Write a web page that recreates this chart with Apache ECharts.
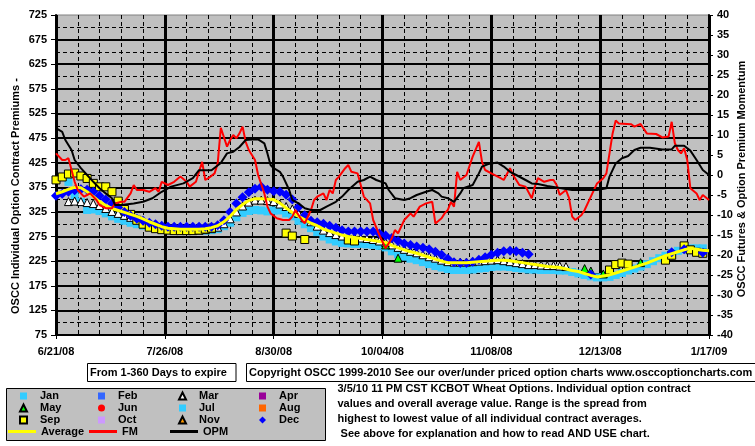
<!DOCTYPE html>
<html><head><meta charset="utf-8">
<script src="https://cdn.jsdelivr.net/npm/echarts/dist/echarts.min.js"></script>
<style>html,body{margin:0;padding:0;background:#fff}#c{width:755px;height:446px}</style>
</head><body><div id="c"></div>
<script>
// x values are days counted from 6/21/08
const dateLabels = ['6/21/08','7/26/08','8/30/08','10/04/08','11/08/08','12/13/08','1/17/09'];

const dotDays = [0,2,4,6,8,10,12,14,16,18, 20,22,24,26,28,30,32,34,36,38, 40,42,44,46,48,50,52,54,56,58,
  60,62,64,66,68,70,72,74,76,78, 80,82,84,86,88,90,92,94,96,98, 100,102,104,106,108,110,112,114,116,118,
  120,122,124,126,128,130,132,134,136,138, 140,142,144,146,148,150,152,154,156,158,
  160,162,164,166,168,170,172,174,176,178, 180,182,184,186,188,190,192,194,196,198, 200,202,204,206,208,210];

const avgVals = [362,366,371,375,374,366,356,346,338,332, 328,324,320,316,311,305,300,295,292,291,
  290,290,290,290,291,293,297,305,316,330, 340,348,352,352,351,350,343,333,324,316,
  309,302,297,290,286,282,278,275,273,271, 269,267,265,263,257,252,248,244,241,237,
  233,229,225,222,222,222,222,223,224,225, 226,227,227,226,224,222,220,218,216,214,
  213,212,209,206,204,200,196,193,195,197, 201,205,209,213,217,221,226,231,236,240, 244,248,251,249,247,246];

const janVals = [null,null,386,359,345,329,330,327,322,316, 311,307,303,300,297,295,293,291,290,288,
  287,287,287,287,287,288,290,296,303,314, 323,327,329,328,326,328,328,322,316,307,
  300,292,284,275,269,265,262,261,260,260, 259,258,256,253,245,239,234,230,227,223,
  219,215,212,209,207,207,207,208,210,211, 213,214,214,213,211,210,208,208,207,207,
  207,206,206,203,200,197,194,192,192,193, 197,201,206,210,214,219,225,231,236,241, 246,249,251,251,251,null];

const marVals = [null,null,346,347,346,344,342,338,332,326, 322,318,314,310,306,301,297,293,290,289,
  288,288,288,288,289,291,294,301,311,325, 337,345,349,349,348,346,341,336,331,322,
  313,305,296,288,283,279,276,274,273,272, 271,269,266,263,258,253,249,245,242,238,
  234,231,227,224,223,223,223,224,225,226, 227,228,226,224,222,220,218,218,217,216,
  216,215,214,null,null,null,null,null,null,null, null,null,null,null,null,null,null,null,null,null, null,null,null,null,null,null];

const sepVals = [390,396,402,404,398,393,383,376,376,366, 347,330,320,308,300,294,291,289,288,287,
  287,287,287,288,290,292,null,null,null,null, null,null,null,null,null,null,null,282,276,null,
  269,null,null,null,null,null,null,268,266,null, null,null,null,null,null,null,null,null,null,null,
  null,null,null,null,null,null,null,null,null,null, null,null,null,null,null,null,null,null,null,null,
  null,null,null,null,null,null,null,null,null,207, 218,221,219,null,null,null,null,null,227,237, null,256,248,243,241,null];

const decVals = [358,362,366,369,371,370,366,358,350,342, 334,325,317,311,307,303,300,297,295,295,
  295,295,295,295,295,295,298,308,325,342, 355,365,372,376,370,367,366,360,350,335,
  318,307,304,301,297,293,288,285,285,285, 285,285,281,277,272,266,261,258,255,252,
  249,244,238,230,223,221,221,224,228,233, 238,242,245,246,245,242,239,null,null,null,
  null,null,null,null,null,null,198,null,null,null, null,null,null,null,null,null,null,null,null,243, null,249,null,null,242,null];

const mayDays = [106,110,170,172,176,188];
const mayVals = [258,231,210,205,199,222];

const fmDays = [0,2,3,4,5,6,7,9,10,11, 13,14,16,18,19,21,22,24,25,26, 28,30,32,33,34,36,38,40,42,43,
  45,47,48,49,51,52,53,55,56,57, 58,59,60,61,62,63,64,65,67,68, 69,71,73,75,76,77,79,80,82,83,
  84,86,87,88,89,90,91,93,94,95, 97,99,101,102,104,105,106,108,109,110, 112,114,115,117,119,121,122,124,125,126,
  127,128,129,130,132,134,136,137,138,140, 143,144,146,147,149,151,153,154,155,157,
  159,160,161,162,164,165,166,167,169,170, 172,174,176,177,178,179,180,181,185,186,
  188,190,193,195,197,198,199,200,201,202, 203,204,206,207,208,210];
const fmVals = [5.4,3.75,3.75,4.2,1.25,-1.7,-3.75,-5.4,-5,-4.6, -6.25,-7.5,-8.3,-8.3,-7.1,-6.7,-6.7,-4.6,-2.5,-3.75,
  -3.75,-4.2,-3.3,-4.2,-1.7,-2.5,-1.7,-0.4,-1.7,-2.9, -1.7,3.3,-1.25,-0.8,0.4,2.9,11.8,7.1,8.75,10,
  9.2,10.4,12.1,8.3,6.25,5,3.75,0,-4.6,-7.9, -9.6,-10.8,-11.25,-11.25,-10.4,-8.75,-11.25,-12.1,-8.75,-6.25,
  -5.4,-4.6,-6.25,-3.75,-4.6,-1.25,-0.4,1.7,2.5,0.8, 0.4,-5.4,-7.1,-11.25,-15,-16.7,-18.3,-15.8,-13.75,-14.6,
  -11.25,-9.6,-10.4,-7.9,-7.1,-6.7,-12.1,-10.8,-9.6,-8.75, -6.7,-7.9,0.8,-1.25,0,4.6,8.3,3.3,1.25,0.4,
  -0.8,-1.25,1.7,0,-2.5,-2.9,-5.8,-2.9,-0.8,-1.7, -1.25,-1.25,-2.5,-5,-3.75,-5.8,-10.4,-11.25,-10,-8.75,
  -5.4,-2.1,-0.8,0.4,5.4,10.4,13.6,12.9,12.7,12.1, 12.75,10.4,10.25,9.4,9.6,13.3,8,6.25,5.4,6.7,
  3.75,-3.3,-4.6,-6.25,-5,-6.25];

const opmDays = [0,2,3,5,6,8,10,12,14,16, 18,19,21,25,28,31,34,37,41,44, 46,50,53,55,57,59,61,63,65,67,
  68,69,70,72,73,75,76,78,80,82, 85,87,90,92,94,97,99,101,103,106, 107,109,112,114,116,119,121,123,124,126,
  128,130,131,134,136,137,139,142,144,146, 148,151,153,155,158,161,166,170,174,177,
  178,180,182,184,186,188,191,195,198,199, 202,204,206,208,210];
const opmVals = [11.7,10.8,8.75,6.25,3.75,1.7,0,-1.7,-3.3,-4.6, -5.8,-7.5,-7.5,-7.1,-6.7,-5.8,-4.2,-2.9,-2.1,-0.8,
  1.2,1.2,3.0,5.4,5.8,7.0,8.75,8.9,8.9,7.9, 5.4,2.5,1.7,0.8,-0.4,-3.75,-6.25,-7.1,-8.3,-8.75,
  -8.75,-7.9,-6.7,-5.4,-3.75,-1.7,-1.25,-0.4,-1.25,-2.1, -3.75,-5.8,-6.25,-5.8,-5,-4.2,-3.75,-4.6,-5.4,-5.8,
  -6.7,-4.6,-3.3,-2.5,0.4,2.1,2.75,3.1,2.1,0.8, 0,-1.25,-2.1,-2.25,-2.75,-3.1,-3.75,-3.75,-3.75,-3.3,
  -0.4,2.9,4.2,4.75,6.25,6.8,6.8,6.4,6.4,7.3, 7.3,6.1,3.75,1.25,0];

const textLines = ['3/5/10 11 PM CST KCBOT Wheat Options. Individual option contract',
  'values and overall average value. Range is the spread from',
  'highest to lowest value of all individual contract averages.',
  ' See above for explanation and how to read AND USE chart.'];

const zip = (xs, ys) => xs.map((x, i) => [x, ys[i]]).filter(p => p[1] !== null);

const FONTFAM = "'Liberation Sans', Arial, sans-serif";
const FONT = "bold 11px 'Liberation Sans', Arial, sans-serif";
const tx = {fontFamily: FONTFAM, fontWeight: 'bold', fontSize: 11, color: '#000'};

function sc(name, pts, symbol, size, color, border) {
  return {name, type: 'scatter', data: pts, symbol, symbolSize: size, yAxisIndex: 0,
    itemStyle: {color, borderColor: border || color, borderWidth: border ? 1 : 0, opacity: 1},
    emphasis: {disabled: true}, silent: true};
}

const chart = echarts.init(document.getElementById('c'));
const legText = Object.assign({}, tx, {lineHeight: 12, padding: [0, 0, 0, 8]});
const legBase = {orient: 'vertical', top: 390, itemWidth: 7, itemHeight: 7, itemGap: 0, padding: 0,
  textStyle: legText, selectedMode: false};

chart.setOption({
  animation: false,
  backgroundColor: '#ffffff',
  grid: {left: 56, top: 15, width: 653, height: 320, show: true, backgroundColor: '#C0C0C0',
    borderColor: '#808080', borderWidth: 1},
  xAxis: {type: 'value', min: 0, max: 210, interval: 35,
    axisLine: {show: true, onZero: false, lineStyle: {color: '#000', width: 2}},
    axisTick: {show: true, length: 4, lineStyle: {color: '#000', width: 1}},
    axisLabel: Object.assign({}, tx, {margin: 11, showMinLabel: true, showMaxLabel: true,
      formatter: v => dateLabels[Math.round(v / 35)]}),
    splitLine: {show: true, lineStyle: {color: '#000', width: 3}},
    minorTick: {show: false, splitNumber: 5},
    minorSplitLine: {show: true, lineStyle: {color: '#000', width: 1, type: [4, 3]}}},
  yAxis: [
    {type: 'value', min: 75, max: 725, interval: 50, position: 'left',
      axisLine: {show: true, lineStyle: {color: '#000', width: 2}},
      axisTick: {show: true, length: 5, lineStyle: {color: '#000'}},
      axisLabel: Object.assign({}, tx, {margin: 9, showMinLabel: true, showMaxLabel: true}),
      splitLine: {show: true, showMinLine: false, showMaxLine: false, lineStyle: {color: '#000', width: 2}},
      minorTick: {show: false, splitNumber: 2},
      minorSplitLine: {show: true, lineStyle: {color: '#000', width: 1, type: [4, 3]}}},
    {type: 'value', min: -40, max: 40, interval: 5, position: 'right',
      axisLine: {show: true, lineStyle: {color: '#000', width: 2}},
      axisTick: {show: true, length: 4, lineStyle: {color: '#000'}},
      axisLabel: Object.assign({}, tx, {margin: 8, showMinLabel: true, showMaxLabel: true}),
      splitLine: {show: false}}
  ],
  legend: [
    Object.assign({}, legBase, {left: 19, data: ['Jan', 'May', 'Sep']}),
    Object.assign({}, legBase, {left: 98, data: ['Feb', 'Jun', 'Oct']}),
    Object.assign({}, legBase, {left: 178, data: ['Mar', 'Jul', 'Nov']}),
    Object.assign({}, legBase, {left: 259, data: ['Apr', 'Aug', 'Dec']}),
    {orient: 'horizontal', left: 8, top: 425, itemWidth: 28, itemHeight: 3, itemGap: 0, padding: 0,
      selectedMode: false, textStyle: Object.assign({}, tx, {width: 48, lineHeight: 13}),
      data: [{name: 'Average', icon: 'rect'}, {name: 'FM', icon: 'rect'}, {name: 'OPM', icon: 'rect'}]}
  ],
  graphic: [
    {type: 'rect', shape: {x: 6.5, y: 388.5, width: 319, height: 52}, style: {fill: '#C0C0C0', stroke: '#000', lineWidth: 1}},
    {type: 'rect', shape: {x: 87.5, y: 363.5, width: 148.5, height: 18}, style: {fill: '#fff', stroke: '#000', lineWidth: 1}},
    {type: 'rect', shape: {x: 246.5, y: 363.5, width: 530, height: 18}, style: {fill: '#fff', stroke: '#000', lineWidth: 1}},
    {type: 'text', x: 90, y: 373, style: {text: 'From 1-360 Days to expire', font: FONT, fill: '#000', verticalAlign: 'middle'}},
    {type: 'text', x: 249, y: 373, style: {text: 'Copyright OSCC 1999-2010 See our over/under priced option charts www.osccoptioncharts.com', font: FONT, fill: '#000', verticalAlign: 'middle'}},
    {type: 'text', x: 337.5, y: 389, style: {text: textLines[0], font: FONT, fill: '#000', verticalAlign: 'middle'}},
    {type: 'text', x: 337.5, y: 404, style: {text: textLines[1], font: FONT, fill: '#000', verticalAlign: 'middle'}},
    {type: 'text', x: 337.5, y: 419, style: {text: textLines[2], font: FONT, fill: '#000', verticalAlign: 'middle'}},
    {type: 'text', x: 337.5, y: 434, style: {text: textLines[3], font: FONT, fill: '#000', verticalAlign: 'middle'}},
    {type: 'text', x: 16, y: 196, rotation: Math.PI / 2, style: {text: 'OSCC Individual Option Contract Premiums -', font: FONT, fill: '#000', align: 'center', verticalAlign: 'middle'}},
    {type: 'text', x: 742, y: 179, rotation: Math.PI / 2, style: {text: 'OSCC Futures & Option Premium Momentum', font: FONT, fill: '#000', align: 'center', verticalAlign: 'middle'}}
  ],
  series: [
    sc('Jan', zip(dotDays, janVals), 'rect', 8, '#33CCFF'),
    sc('Feb', [], 'rect', 8, '#3366FF'),
    sc('Mar', zip(dotDays, marVals), 'triangle', 8, '#FFFFFF', '#000000'),
    sc('Apr', [], 'rect', 8, '#990099'),
    sc('May', zip(mayDays, mayVals), 'triangle', 8, '#00FF00', '#000000'),
    sc('Jun', [], 'circle', 8, '#FF0000'),
    sc('Jul', [], 'rect', 8, '#33CCFF'),
    sc('Aug', [], 'rect', 8, '#FF6600'),
    {name: 'Average', type: 'line', data: zip(dotDays, avgVals), yAxisIndex: 0, symbol: 'none',
      lineStyle: {color: '#FFFF00', width: 3}, itemStyle: {color: '#FFFF00'}, silent: true},
    sc('Sep', zip(dotDays, sepVals), 'rect', 8, '#FFFF00', '#000000'),
    sc('Oct', [], 'rect', 8, '#CC99FF'),
    sc('Nov', [], 'triangle', 8, '#FF9900', '#000000'),
    sc('Dec', zip(dotDays, decVals), 'diamond', 10, '#0000FF'),
    {name: 'FM', type: 'line', data: zip(fmDays, fmVals), yAxisIndex: 1, symbol: 'none',
      lineStyle: {color: '#FF0000', width: 2}, itemStyle: {color: '#FF0000'}, silent: true},
    {name: 'OPM', type: 'line', data: zip(opmDays, opmVals), yAxisIndex: 1, symbol: 'none',
      lineStyle: {color: '#000000', width: 2}, itemStyle: {color: '#000000'}, silent: true}
  ]
});
</script></body></html>
